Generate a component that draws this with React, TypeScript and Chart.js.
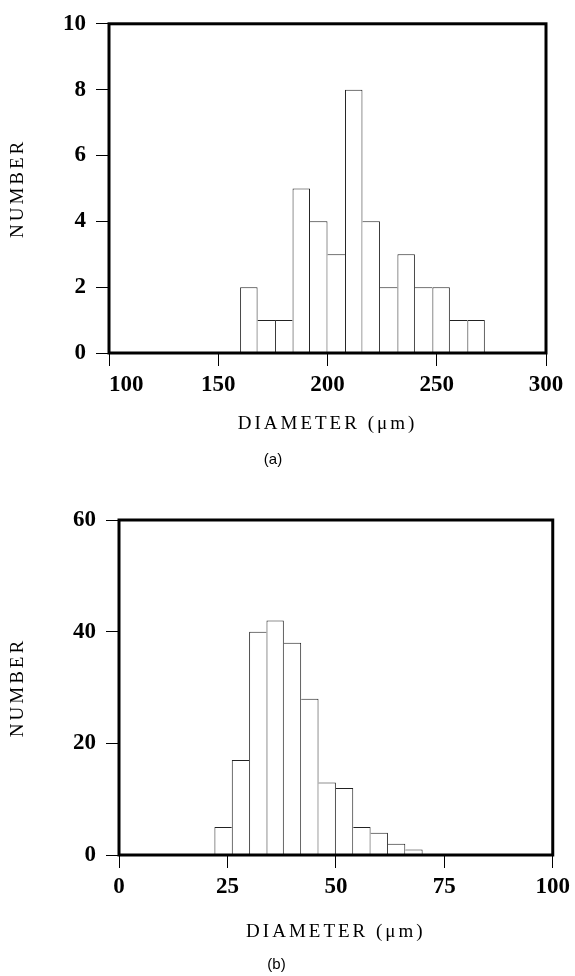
import React, { useEffect, useRef } from 'react';
import { Chart, registerables } from 'chart.js';

Chart.register(...registerables);

// ---- Data: panel (a) ----
const binStartsA = [160, 168, 176, 184, 192, 200, 208, 216, 224, 232, 240, 248, 256, 264];
const countsA = [2, 1, 1, 5, 4, 3, 8, 4, 2, 3, 2, 2, 1, 1];
const binWidthA = 8;
const xTicksA = [100, 150, 200, 250, 300];
const yTicksA = [0, 2, 4, 6, 8, 10];

// ---- Data: panel (b) ----
const binStartsB = [22, 26, 30, 34, 38, 42, 46, 50, 54, 58, 62, 66];
const countsB = [5, 17, 40, 42, 38, 28, 13, 12, 5, 4, 2, 1];
const binWidthB = 4;
const xTicksB = [0, 25, 50, 75, 100];
const yTicksB = [0, 20, 40, 60];

const xTitle = 'DIAMETER (\u03bcm)';
const yTitle = 'NUMBER';
const panelLabels = ['(a)', '(b)'];

const framePlugin = {
  id: 'frame',
  afterDraw(chart: any) {
    const { ctx, chartArea } = chart;
    const { left, top, right, bottom } = chartArea;
    ctx.save();
    ctx.strokeStyle = '#000';
    ctx.lineWidth = 3;
    ctx.strokeRect(left, top, right - left, bottom - top);
    ctx.restore();
  },
};

const spacedTitlePlugin = {
  id: 'spacedTitle',
  afterLayout(chart: any) {
    Object.values(chart.scales).forEach((scale: any) => {
      if (scale.__spaced) return;
      const orig = scale.drawTitle.bind(scale);
      scale.drawTitle = function () {
        const ctx = this.ctx;
        const prev = ctx.letterSpacing;
        ctx.letterSpacing = '3px';
        orig();
        ctx.letterSpacing = prev || '0px';
      };
      scale.__spaced = true;
    });
  },
};

type Panel = {
  starts: number[];
  counts: number[];
  width: number;
  xTicks: number[];
  yTicks: number[];
  label: string;
  padding: { left: number; right: number; top: number; bottom: number };
  yWidth: number;
  xHeight: number;
  xTitlePadBottom: number;
  firstLabelShift: boolean;
};

function makeConfig(p: Panel): any {
  const data = p.starts.map((s, i) => ({ x: s + p.width / 2, y: p.counts[i] }));
  const n = p.counts.length;
  const tickFont = { family: '"Liberation Serif", serif', size: 23, weight: 'bold' as const };
  const titleFont = { family: '"Liberation Serif", serif', size: 19, weight: 'normal' as const };
  return {
    type: 'bar',
    data: {
      datasets: [
        {
          data,
          backgroundColor: '#fff',
          borderColor: '#222',
          borderSkipped: 'bottom',
          inflateAmount: 0,
          borderWidth: (ctx: any) => {
            const i = ctx.dataIndex;
            const v = p.counts[i];
            const prev = i > 0 ? p.counts[i - 1] : -1;
            const next = i < n - 1 ? p.counts[i + 1] : -1;
            return {
              top: 1,
              left: prev <= v ? 1 : 0,
              right: next < v ? 1 : 0,
              bottom: 0,
            };
          },
          barPercentage: 1,
          categoryPercentage: 1,
        },
      ],
    },
    options: {
      responsive: false,
      animation: false,
      devicePixelRatio: 1,
      layout: { padding: p.padding },
      plugins: {
        legend: { display: false },
        tooltip: { enabled: false },
        title: {
          display: true,
          text: p.label,
          position: 'bottom',
          color: '#000',
          padding: { top: 0, bottom: 0 },
          font: { family: '"Liberation Sans", Arial, sans-serif', size: 15, weight: 'normal' },
        },
      },
      scales: {
        x: {
          type: 'linear',
          offset: false,
          min: p.xTicks[0],
          max: p.xTicks[p.xTicks.length - 1],
          afterBuildTicks: (axis: any) => {
            axis.ticks = p.xTicks.map((v) => ({ value: v }));
          },
          afterFit: (axis: any) => {
            axis.height = p.xHeight;
          },
          grid: {
            display: true,
            offset: false,
            drawOnChartArea: false,
            drawTicks: true,
            tickLength: 13,
            color: '#000',
            lineWidth: 1,
          },
          border: { display: false },
          ticks: {
            autoSkip: false,
            maxRotation: 0,
            padding: 5,
            color: '#000',
            font: tickFont,
            callback: (v: number, i: number) =>
              p.firstLabelShift && i === 0 ? '      ' + String(v) : String(v),
          },
          title: {
            display: true,
            text: xTitle,
            color: '#000',
            font: titleFont,
            padding: { top: 0, bottom: p.xTitlePadBottom },
          },
        },
        y: {
          type: 'linear',
          min: p.yTicks[0],
          max: p.yTicks[p.yTicks.length - 1],
          afterBuildTicks: (axis: any) => {
            axis.ticks = p.yTicks.map((v) => ({ value: v }));
          },
          afterFit: (axis: any) => {
            axis.width = p.yWidth;
          },
          grid: {
            display: true,
            drawOnChartArea: false,
            drawTicks: true,
            tickLength: 13,
            color: '#000',
            lineWidth: 1,
          },
          border: { display: false },
          ticks: {
            padding: 10,
            color: '#000',
            font: tickFont,
          },
          title: {
            display: true,
            text: yTitle,
            color: '#000',
            font: titleFont,
            padding: { top: 7, bottom: 0 },
          },
        },
      },
    },
    plugins: [framePlugin, spacedTitlePlugin],
  };
}

const panelA: Panel = {
  starts: binStartsA,
  counts: countsA,
  width: binWidthA,
  xTicks: xTicksA,
  yTicks: yTicksA,
  label: panelLabels[0],
  padding: { left: 0, right: 29, top: 17, bottom: 0 },
  yWidth: 109,
  xHeight: 98,
  xTitlePadBottom: 15.6,
  firstLabelShift: true,
};

const panelB: Panel = {
  starts: binStartsB,
  counts: countsB,
  width: binWidthB,
  xTicks: xTicksB,
  yTicks: yTicksB,
  label: panelLabels[1],
  padding: { left: 0, right: 22, top: 40, bottom: 2 },
  yWidth: 119,
  xHeight: 101,
  xTitlePadBottom: 12.6,
  firstLabelShift: false,
};

function HistChart({ panel, top, height }: { panel: Panel; top: number; height: number }) {
  const ref = useRef<HTMLCanvasElement | null>(null);
  useEffect(() => {
    if (!ref.current) return;
    const chart = new Chart(ref.current, makeConfig(panel));
    return () => chart.destroy();
  }, [panel]);
  return (
    <canvas
      ref={ref}
      width={575}
      height={height}
      style={{ position: 'absolute', left: 0, top, width: 575, height }}
    />
  );
}

export default function App() {
  return (
    <div style={{ position: 'absolute', left: 0, top: 0, width: 575, height: 976, background: '#fff' }}>
      <HistChart panel={panelA} top={0} height={469} />
      <HistChart panel={panelB} top={480} height={496} />
    </div>
  );
}
